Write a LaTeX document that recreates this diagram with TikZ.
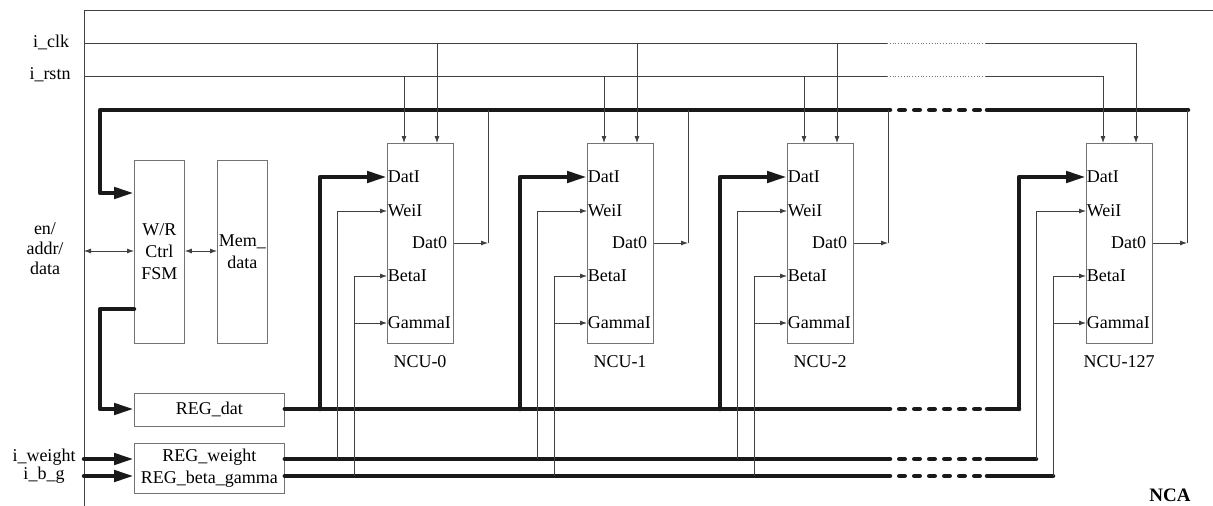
\documentclass[tikz,border=0pt]{standalone}
\usepackage{fontspec}
\setmainfont{Liberation Serif}
\usetikzlibrary{arrows.meta}

\tikzset{
  blk/.style={draw=black!55, line width=0.8pt, inner sep=0pt, anchor=north west, align=center},
  bus/.style={line width=4.5pt, line join=round, line cap=round, black!90},
  busarr/.style={bus, -{Triangle[length=20pt,width=11pt]}},
  gap/.style={bus, dash pattern=on 5.5pt off 9.5pt},
  sig/.style={line width=0.8pt, black!75},
  sigarr/.style={sig, -{Latex[length=7pt,width=5pt]}},
  dbl/.style={sig, {Latex[length=7pt,width=5pt]}-{Latex[length=7pt,width=5pt]}},
  port/.style={inner sep=0.6pt},
}

\begin{document}
\begin{tikzpicture}[x=1pt,y=-1pt, font=\fontsize{18}{22}\selectfont]
  \useasboundingbox (0,0) rectangle (1213,506);
  % Frame
  \draw[sig] (84,506) -- (84,10) -- (1213,10);
  \node (nca) at (1170,495) {\fontsize{19}{22}\selectfont\bfseries NCA};
  % Inputs
  \node (clk)  at (51,42)  {i\_clk};
  \node (rstn) at (50,75)  {i\_rstn};
  \node[align=center] (ead) at (45,249) {en/\\[-2pt]addr/\\[-2pt]data};
  \node (iw)   at (44,457) {i\_weight};
  \node (ibg)  at (44,475) {i\_b\_g};
  % Control and registers
  \node[blk, minimum width=50pt, minimum height=183pt] (fsm) at (134,160) {W/R\\Ctrl\\FSM};
  \node[blk, minimum width=50pt, minimum height=183pt] (mem) at (217,160) {Mem\_\\data};
  \node[blk, minimum width=150pt, minimum height=33pt] (regd) at (134,393) {REG\_dat};
  \node[blk, minimum width=150pt, minimum height=50pt] (regw) at (134,443) {REG\_weight\\REG\_beta\_gamma};
  \draw[dbl] (84,251) -- (fsm.west |- 0,251);
  \draw[dbl] (fsm.east |- 0,251) -- (mem.west |- 0,251);
  \draw[busarr] (84,459) -- (regw.west |- 0,459);
  \draw[busarr] (84,476) -- (regw.west |- 0,476);
  % clk / rstn lines
  \draw[sig] (84,43) -- (887,43);
  \draw[sig, black!55, dotted] (887,43) -- (986,43);
  \draw[sig] (986,43) -- (1136,43);
  \draw[sig] (84,76) -- (887,76);
  \draw[sig, black!55, dotted] (887,76) -- (986,76);
  \draw[sig] (986,76) -- (1103,76);
  % Output bus
  \draw[busarr] (890,110) -- (100,110) -- (100,193) -- (fsm.west |- 0,193);
  \draw[gap] (899.25,110) -- (979.75,110);
  \draw[bus] (987,110) -- (1188,110);
  % Data bus
  \draw[busarr] (fsm.west |- 0,309) -- (100,309) -- (100,409) -- (regd.west |- 0,409);
  \draw[bus] (regd.east |- 0,409) -- (890,409);
  \draw[gap] (899.25,409) -- (979.75,409);
  \draw[bus] (987,409) -- (1019,409);
  % Weight and beta/gamma buses
  \draw[bus] (regw.east |- 0,459) -- (890,459);
  \draw[gap] (899.25,459) -- (979.75,459);
  \draw[bus] (987,459) -- (1036,459);
  \draw[bus] (regw.east |- 0,476) -- (890,476);
  \draw[gap] (899.25,476) -- (979.75,476);
  \draw[bus] (987,476) -- (1053,476);
  % NCU blocks
  \foreach \bx/\lbl in {387/0, 587/1, 787/2, 1086/127} {
    \node[blk, minimum width=66pt, minimum height=200pt] (ncu\lbl) at (\bx,143) {};
    \node (name\lbl) at (\bx+33,362) {NCU-\lbl};
    \node[port, anchor=west] (dati\lbl)  at (\bx,177) {DatI};
    \node[port, anchor=west] (weii\lbl)  at (\bx,211) {WeiI};
    \node[port, anchor=east] (dato\lbl)  at (\bx+61,243) {Dat0};
    \node[port, anchor=west] (betai\lbl) at (\bx,276) {BetaI};
    \node[port, anchor=west] (gami\lbl)  at (\bx,323) {GammaI};
    \draw[sigarr] (\bx+17,76) -- (ncu\lbl.north -| \bx+17,0);
    \draw[sigarr] (\bx+50,43) -- (ncu\lbl.north -| \bx+50,0);
    \draw[busarr] (\bx-67,409) -- (\bx-67,177) -- (dati\lbl.west);
    \draw[sigarr] (\bx-50,459) -- (\bx-50,211) -- (weii\lbl.west);
    \draw[sigarr] (\bx-33,476) -- (\bx-33,276) -- (betai\lbl.west);
    \draw[sigarr] (\bx-33,323) -- (gami\lbl.west);
    \draw[sig] (\bx+101,110) -- (\bx+101,243);
    \draw[sigarr] (ncu\lbl.east |- dato\lbl.east) -- (\bx+101,243);
  }
\end{tikzpicture}
\end{document}
